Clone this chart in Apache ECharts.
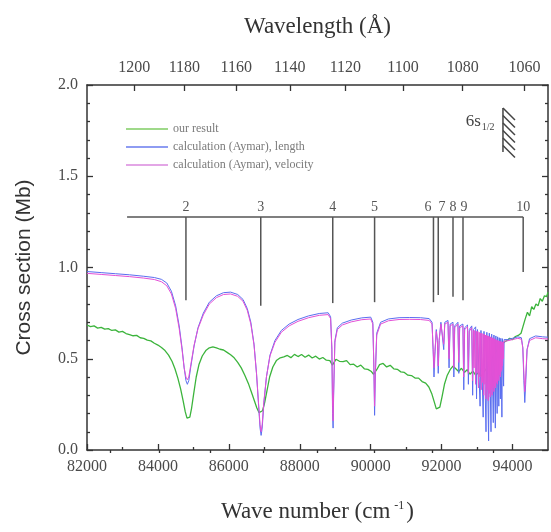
<!DOCTYPE html>
<html><head><meta charset="utf-8">
<script src="https://cdn.jsdelivr.net/npm/echarts@6/dist/echarts.min.js"></script>
<style>html,body{margin:0;padding:0;background:#fff}#c{width:551px;height:532px}</style>
</head><body><div id="c"></div>
<script>
// ---- tick values ----
const xMajorTicks = [82000,84000,86000,88000,90000,92000,94000];
const xMinorTicks = [83000,85000,87000,89000,91000,93000];
const wlMajorTicks = [1200,1180,1160,1140,1120,1100,1080,1060];
const wlMinorTicks = [1210,1190,1170,1150,1130,1110,1090,1070];

// ---- series ----
const ourResult = [[82000,0.685],[82100,0.676],[82200,0.680],[82300,0.668],[82400,0.672],[82500,0.662],[82600,0.665],[82700,0.655],[82800,0.658],[82900,0.646],[83000,0.650],[83100,0.638],[83200,0.632],[83300,0.626],[83400,0.628],[83500,0.615],[83600,0.612],[83700,0.602],[83800,0.598],[83900,0.585],[84000,0.575],[84100,0.562],[84200,0.545],[84300,0.520],[84400,0.485],[84480,0.445],[84560,0.395],[84640,0.335],[84710,0.27],[84770,0.21],[84820,0.175],[84860,0.165],[84900,0.18],[84950,0.23],[85010,0.31],[85080,0.40],[85160,0.47],[85250,0.515],[85350,0.545],[85450,0.56],[85550,0.565],[85650,0.56],[85750,0.552],[85850,0.548],[85950,0.535],[86050,0.522],[86150,0.505],[86250,0.48],[86350,0.45],[86450,0.41],[86550,0.365],[86640,0.315],[86720,0.27],[86790,0.23],[86850,0.205],[86900,0.20],[86950,0.215],[87010,0.26],[87080,0.33],[87150,0.40],[87240,0.455],[87340,0.49],[87450,0.505],[87550,0.51],[87650,0.518],[87750,0.506],[87850,0.524],[87950,0.512],[88050,0.523],[88150,0.508],[88250,0.52],[88350,0.504],[88450,0.514],[88550,0.498],[88650,0.507],[88750,0.492],[88850,0.49],[88920,0.465],[88960,0.475],[89020,0.497],[89120,0.486],[89220,0.484],[89320,0.49],[89420,0.468],[89520,0.47],[89620,0.455],[89720,0.465],[89820,0.445],[89920,0.442],[90020,0.43],[90080,0.415],[90120,0.405],[90170,0.44],[90250,0.468],[90350,0.474],[90450,0.455],[90550,0.464],[90650,0.445],[90750,0.442],[90850,0.428],[90950,0.425],[91050,0.41],[91150,0.408],[91250,0.394],[91350,0.394],[91450,0.375],[91550,0.366],[91640,0.345],[91720,0.31],[91790,0.265],[91850,0.225],[91900,0.215],[91950,0.235],[92010,0.29],[92080,0.36],[92160,0.41],[92240,0.44],[92320,0.46],[92400,0.445],[92480,0.43],[92560,0.448],[92640,0.425],[92720,0.44],[92800,0.415],[92880,0.432],[92960,0.41],[93040,0.425],[93120,0.405],[93200,0.43],[93280,0.45],[93360,0.485],[93440,0.51],[93520,0.535],[93600,0.555],[93680,0.575],[93760,0.59],[93840,0.60],[93920,0.612],[94000,0.605],[94080,0.622],[94160,0.628],[94240,0.64],[94300,0.68],[94360,0.72],[94420,0.755],[94480,0.735],[94540,0.785],[94600,0.77],[94660,0.80],[94720,0.79],[94780,0.83],[94840,0.815],[94900,0.845],[94960,0.84],[95000,0.865]];

const calcLength = [[82000,0.978],[82400,0.972],[82800,0.966],[83200,0.960],[83600,0.952],[83900,0.945],[84100,0.935],[84250,0.915],[84380,0.87],[84500,0.79],[84600,0.68],[84680,0.56],[84740,0.45],[84790,0.38],[84830,0.36],[84870,0.38],[84930,0.46],[85020,0.57],[85130,0.67],[85280,0.75],[85450,0.81],[85650,0.845],[85850,0.862],[86050,0.865],[86250,0.852],[86400,0.825],[86520,0.775],[86620,0.70],[86710,0.58],[86780,0.42],[86840,0.24],[86880,0.12],[86910,0.08],[86940,0.12],[86990,0.26],[87060,0.40],[87160,0.52],[87300,0.60],[87480,0.655],[87700,0.69],[87950,0.715],[88250,0.735],[88550,0.748],[88800,0.752],[88870,0.73],[88905,0.55],[88925,0.20],[88940,0.12],[88955,0.30],[88990,0.60],[89060,0.67],[89200,0.695],[89450,0.712],[89750,0.724],[90000,0.728],[90060,0.70],[90090,0.45],[90110,0.19],[90130,0.40],[90170,0.64],[90280,0.70],[90500,0.718],[90800,0.725],[91100,0.726],[91400,0.725],[91650,0.72],[91730,0.70],[91760,0.55],[91785,0.40],[91810,0.52],[91850,0.66],[91880,0.60],[91905,0.42],[91930,0.60],[91980,0.70],[92030,0.71],[92060,0.55],[92090,0.70],[92180,0.71],[92210,0.45],[92240,0.69],[92320,0.70],[92345,0.40],[92370,0.68],[92460,0.70],[92485,0.42],[92510,0.68],[92600,0.69],[92625,0.33],[92650,0.67],[92730,0.685],[92755,0.36],[92780,0.66],[92850,0.68],[92875,0.30],[92900,0.66],[92960,0.675],[92985,0.28],[93010,0.66],[93060,0.67],[93085,0.24],[93110,0.655],[93150,0.665],[93172,0.18],[93195,0.65],[93230,0.66],[93252,0.10],[93275,0.645],[93305,0.655],[93325,0.05],[93345,0.64],[93375,0.65],[93393,0.10],[93412,0.635],[93440,0.645],[93457,0.15],[93475,0.63],[93500,0.64],[93515,0.12],[93530,0.625],[93552,0.635],[93566,0.20],[93580,0.62],[93600,0.63],[93613,0.24],[93626,0.615],[93645,0.625],[93657,0.28],[93670,0.612],[93688,0.62],[93700,0.18],[93715,0.61],[93735,0.615],[93748,0.35],[93762,0.605],[93850,0.605],[94000,0.612],[94150,0.62],[94250,0.615],[94290,0.56],[94320,0.38],[94345,0.26],[94370,0.36],[94410,0.55],[94480,0.61],[94650,0.625],[94850,0.62],[95000,0.618]];

const calcVelocity = [[82000,0.968],[82400,0.962],[82800,0.956],[83200,0.950],[83600,0.942],[83900,0.934],[84100,0.922],[84250,0.90],[84380,0.855],[84500,0.775],[84600,0.665],[84680,0.55],[84740,0.45],[84790,0.40],[84830,0.385],[84870,0.40],[84930,0.47],[85020,0.575],[85130,0.665],[85280,0.74],[85450,0.80],[85650,0.835],[85850,0.852],[86050,0.855],[86250,0.842],[86400,0.815],[86520,0.765],[86620,0.69],[86710,0.575],[86780,0.42],[86840,0.25],[86880,0.14],[86910,0.10],[86940,0.14],[86990,0.27],[87060,0.40],[87160,0.515],[87300,0.59],[87480,0.645],[87700,0.68],[87950,0.705],[88250,0.725],[88550,0.738],[88800,0.742],[88870,0.72],[88905,0.56],[88925,0.24],[88940,0.16],[88955,0.32],[88990,0.59],[89060,0.66],[89200,0.685],[89450,0.702],[89750,0.714],[90000,0.718],[90060,0.69],[90090,0.46],[90110,0.24],[90130,0.42],[90170,0.63],[90280,0.69],[90500,0.708],[90800,0.715],[91100,0.716],[91400,0.715],[91650,0.71],[91730,0.69],[91760,0.56],[91785,0.45],[91810,0.54],[91850,0.65],[91880,0.60],[91905,0.46],[91930,0.60],[91980,0.69],[92030,0.70],[92058,0.58],[92088,0.69],[92180,0.70],[92208,0.50],[92238,0.68],[92320,0.69],[92343,0.45],[92368,0.67],[92460,0.69],[92483,0.48],[92508,0.67],[92600,0.68],[92622,0.40],[92648,0.66],[92730,0.675],[92752,0.42],[92778,0.65],[92850,0.67],[92872,0.38],[92895,0.655],[92915,0.45],[92935,0.655],[92958,0.36],[92980,0.65],[93000,0.42],[93020,0.65],[93040,0.34],[93060,0.645],[93080,0.40],[93100,0.64],[93118,0.33],[93136,0.64],[93154,0.37],[93172,0.635],[93188,0.30],[93204,0.635],[93220,0.36],[93236,0.63],[93252,0.28],[93268,0.63],[93283,0.33],[93298,0.625],[93313,0.27],[93328,0.625],[93342,0.31],[93356,0.62],[93370,0.29],[93384,0.62],[93397,0.33],[93410,0.615],[93423,0.30],[93436,0.615],[93449,0.34],[93462,0.61],[93475,0.32],[93488,0.61],[93500,0.35],[93512,0.605],[93524,0.34],[93536,0.605],[93548,0.37],[93560,0.60],[93571,0.36],[93582,0.60],[93593,0.39],[93604,0.598],[93615,0.38],[93626,0.596],[93637,0.41],[93648,0.595],[93658,0.40],[93668,0.594],[93678,0.43],[93688,0.593],[93698,0.44],[93708,0.592],[93718,0.46],[93728,0.592],[93740,0.50],[93752,0.595],[93780,0.598],[93850,0.598],[94000,0.605],[94150,0.612],[94250,0.607],[94290,0.56],[94320,0.42],[94345,0.32],[94370,0.40],[94410,0.55],[94480,0.60],[94650,0.615],[94850,0.61],[95000,0.608]];

// ---- resonance annotation (n = 2..10) ----
const resLabels = ['2','3','4','5','6','7','8','9','10'];
const resX      = [84790,86900,88930,90110,91770,91905,92321,92603,94300];
const resEnd    = [0.82,0.79,0.805,0.81,0.81,0.85,0.84,0.82,0.975];
const resLabelX = [84790,86900,88930,90110,91617,92011,92321,92631,94300];
const barY = 1.277;
const barStart = 83130;
const barEnd = 94300;
// ---- 6s1/2 limit marker ----
const limitMarker = [[93730, 1.874, 1.633, 92680, 1.80]];

const serif = "'Liberation Serif','Times New Roman',serif";
const sans = "'Liberation Sans',Arial,sans-serif";
const axisCol = '#333';
const lblCol = '#4a4a4a';

const chart = echarts.init(document.getElementById('c'), null, {renderer:'canvas'});

const hiddenAxis = {axisLine:{show:false}, axisLabel:{show:false}, splitLine:{show:false}};

const option = {
  animation:false,
  backgroundColor:'#fff',
  grid:{left:87,right:3,top:85,bottom:82},
  legend:{
    data:[
      {name:'our result',itemStyle:{color:'#9fd98a'}},
      {name:'calculation (Aymar), length',itemStyle:{color:'#8e9cf2'}},
      {name:'calculation (Aymar), velocity',itemStyle:{color:'#e3a6e6'}}
    ],
    orient:'vertical', left:121, top:118, itemWidth:42, itemHeight:2, itemGap:6, icon:'rect',
    textStyle:{fontFamily:serif,fontSize:12,color:'#7a7a7a'}
  },
  xAxis:[
    {type:'value',min:82000,max:95000,position:'bottom',
     axisLine:{show:true,onZero:false,lineStyle:{color:axisCol,width:1.5}},
     axisTick:{show:true,inside:true,length:6,customValues:xMajorTicks,lineStyle:{color:axisCol,width:1.3}},
     axisLabel:{show:true,customValues:xMajorTicks,formatter:v=>String(v),fontFamily:serif,fontSize:16,color:lblCol,margin:9},
     splitLine:{show:false},
     name:'Wave number (cm{sup|-1})',nameLocation:'middle',nameGap:50,
     nameTextStyle:{fontFamily:serif,fontSize:23,color:'#333',
       rich:{sup:{fontFamily:serif,fontSize:12,color:'#333',verticalAlign:'top',padding:[0,2,12,4]}}}},
    Object.assign({type:'value',min:82000,max:95000,position:'bottom',
     axisTick:{show:true,inside:true,length:3,customValues:xMinorTicks,lineStyle:{color:axisCol,width:1.3}}},hiddenAxis),
    {type:'value',min:82000,max:95000,position:'top',
     axisLine:{show:true,onZero:false,lineStyle:{color:axisCol,width:1.5}},
     axisTick:{show:true,inside:true,length:6,customValues:wlMajorTicks.map(w=>1e8/w),lineStyle:{color:axisCol,width:1.3}},
     axisLabel:{show:true,customValues:wlMajorTicks.map(w=>1e8/w),formatter:v=>String(Math.round(1e8/v)),fontFamily:serif,fontSize:16,color:lblCol,margin:9},
     splitLine:{show:false},
     name:'Wavelength (Å)',nameLocation:'middle',nameGap:47,
     nameTextStyle:{fontFamily:serif,fontSize:23,color:'#333'}},
    Object.assign({type:'value',min:82000,max:95000,position:'top',
     axisTick:{show:true,inside:true,length:3,customValues:wlMinorTicks.map(w=>1e8/w),lineStyle:{color:axisCol,width:1.3}}},hiddenAxis)
  ],
  yAxis:[
    {type:'value',min:0,max:2,interval:0.5,position:'left',
     axisLine:{show:true,onZero:false,lineStyle:{color:axisCol,width:1.5}},
     axisTick:{show:true,inside:true,length:6,lineStyle:{color:axisCol,width:1.3}},
     minorTick:{show:true,splitNumber:5,length:3,lineStyle:{color:axisCol,width:1.3}},
     axisLabel:{formatter:v=>v.toFixed(1),fontFamily:serif,fontSize:16,color:lblCol,margin:9},
     splitLine:{show:false},minorSplitLine:{show:false},
     name:'Cross section (Mb)',nameLocation:'middle',nameGap:52,
     nameTextStyle:{fontFamily:sans,fontSize:21,color:'#333'}},
    {type:'value',min:0,max:2,interval:0.5,position:'right',
     axisLine:{show:true,onZero:false,lineStyle:{color:axisCol,width:1.5}},
     axisTick:{show:true,inside:true,length:6,lineStyle:{color:axisCol,width:1.3}},
     minorTick:{show:true,splitNumber:5,length:3,lineStyle:{color:axisCol,width:1.3}},
     axisLabel:{show:false},splitLine:{show:false}}
  ],
  series:[
    {name:'our result',type:'line',data:ourResult,showSymbol:false,symbol:'none',
     lineStyle:{color:'#3cb43c',width:1.3},itemStyle:{color:'#3cb43c'},z:3},
    {name:'calculation (Aymar), length',type:'line',data:calcLength,showSymbol:false,symbol:'none',
     lineStyle:{color:'#5a6ef0',width:1},itemStyle:{color:'#5a6ef0'},z:4},
    {name:'calculation (Aymar), velocity',type:'line',data:calcVelocity,showSymbol:false,symbol:'none',
     lineStyle:{color:'#e450d6',width:1},itemStyle:{color:'#e450d6'},z:5},
    {name:'bar',type:'line',data:[[barStart,barY],[barEnd,barY]],showSymbol:false,symbol:'none',silent:true,
     lineStyle:{color:'#555',width:1.5},z:6},
    {name:'resonances',type:'custom',silent:true,z:6,clip:false,
     data:resX.map((x,i)=>[x,resEnd[i],resLabelX[i]]),
     encode:{x:0,y:1},
     renderItem:(params,api)=>{
       const i = params.dataIndex;
       const a = api.coord([api.value(0),barY]);
       const b = api.coord([api.value(0),api.value(1)]);
       const t = api.coord([api.value(2),barY]);
       return {type:'group',children:[
         {type:'line',shape:{x1:a[0],y1:a[1],x2:b[0],y2:b[1]},style:{stroke:'#555',lineWidth:1.5}},
         {type:'text',x:t[0],y:t[1]-3,style:{text:resLabels[i],fill:'#555',fontFamily:serif,fontSize:14,align:'center',verticalAlign:'bottom'}}
       ]};
     }},
    {name:'limit',type:'custom',silent:true,z:6,clip:false,
     data:limitMarker,encode:{x:0,y:1},
     renderItem:(params,api)=>{
       const top = api.coord([api.value(0),api.value(1)]);
       const bot = api.coord([api.value(0),api.value(2)]);
       const lab = api.coord([api.value(3),api.value(4)]);
       const kids = [{type:'line',shape:{x1:top[0],y1:top[1],x2:bot[0],y2:bot[1]},style:{stroke:'#444',lineWidth:1.5}}];
       for(let yy=top[1]; yy<bot[1]-6; yy+=7.5){
         kids.push({type:'line',shape:{x1:top[0],y1:yy,x2:top[0]+12,y2:yy+12},style:{stroke:'#444',lineWidth:1.5}});
       }
       kids.push({type:'text',x:lab[0],y:lab[1],style:{text:'{a|6s}{b|1/2}',verticalAlign:'middle',align:'left',
         rich:{a:{fontFamily:serif,fontSize:17,fill:'#444'},b:{fontFamily:serif,fontSize:10,fill:'#444',padding:[12,0,0,1]}}}});
       return {type:'group',children:kids};
     }}
  ]
};
chart.setOption(option);
</script>
</body></html>
